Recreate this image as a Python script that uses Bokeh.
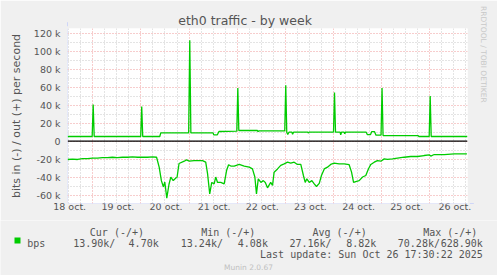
from bokeh.plotting import figure
from bokeh.layouts import column
from bokeh.models import (FixedTicker, Span, Arrow, NormalHead, Range1d,
                          ColumnDataSource, Title)
from bokeh.core.properties import value
from bokeh.embed import file_html
from bokeh.resources import INLINE

# ---------------- data ----------------
title_text = "eth0 traffic - by week"
y_label = "bits in (-) / out (+) per second"
day_labels = ["18 oct.", "19 oct.", "20 oct.", "21 oct.", "22 oct.",
              "23 oct.", "24 oct.", "25 oct.", "26 oct."]
y_tick_values = [-60000, -40000, -20000, 0, 20000, 40000, 60000, 80000, 100000, 120000]
y_tick_labels = ["-60 k", "-40 k", "-20 k", "0", "20 k", "40 k", "60 k", "80 k", "100 k", "120 k"]

# hours since 18 oct 00:00
hours_out = [11.4, 23.7, 24.2, 24.7, 47.9, 48.4, 48.9, 57.4, 57.9, 71.8, 72.35, 72.9,
             84.0, 84.3, 86.1, 86.9, 95.8, 96.3, 96.8, 106.0, 106.4, 106.9,
             119.7, 120.2, 120.7, 121.2, 121.8, 123.3, 123.6, 124.1, 131.2, 131.4, 131.8,
             144.0, 144.5, 145.0, 147.3, 147.6, 148.0, 149.3, 149.6, 150.0,
             160.3, 160.9, 162.4, 163.1, 164.4, 165.2, 167.7, 168.2, 168.7,
             186.2, 186.5, 191.7, 192.2, 192.7, 210.8]
bps_out = [5000, 5000, 40500, 5000, 5000, 38300, 5000, 5000, 9000, 9000, 112000, 9000,
           9100, 6900, 6900, 10600, 10900, 59000, 11700, 11700, 10500, 11300,
           11300, 62000, 9800, 7200, 9800, 9800, 7500, 9800, 9800, 9000, 9800,
           9800, 54000, 9800, 9800, 7000, 9800, 9800, 8000, 9800,
           9800, 7000, 7000, 10500, 10500, 6500, 6500, 59000, 6100,
           6100, 5000, 5000, 50000, 5000, 5000]

hours_in = [11.4, 13.9, 16.4, 18.9, 21.4, 23.9, 26.3, 28.8, 31.3, 33.8, 36.3, 38.8,
            41.3, 43.8, 46.3, 48.8, 51.3, 53.8, 55.8,
            57.1, 58.2, 59.2, 59.9, 60.9, 62.0, 62.9, 64.1, 65.4, 66.0, 67.0,
            69.6, 70.7, 72.1, 74.5, 78.7, 80.3, 81.2, 82.3, 83.3, 84.5, 85.3, 86.2,
            87.8, 89.5, 90.7, 91.7, 92.8, 94.5, 97.0, 99.5, 102.0, 103.6, 104.8,
            105.6, 106.5, 107.8, 109.0, 110.0, 111.1, 112.7, 113.6, 114.4, 116.1,
            117.7, 119.4, 121.1, 122.7, 124.4, 126.0, 127.7, 129.0, 129.9, 130.7,
            131.9, 133.2, 134.4, 135.5, 136.9, 138.0, 139.4, 141.0, 142.6, 144.3,
            146.8, 149.3, 151.8, 153.0, 154.0, 155.1, 156.8, 158.5, 160.1, 161.4,
            162.6, 164.3, 165.9, 167.6, 169.3, 170.9, 173.4, 175.9, 179.2, 182.5,
            185.9, 189.2, 191.7, 192.5, 194.2, 199.2, 204.2, 210.5]
bps_in = [20500, 20000, 20500, 19500, 19500, 19000, 19000, 18500, 18500, 18000, 18500, 18000,
          18000, 17500, 18000, 18000, 18000, 17500, 18000,
          29000, 44000, 51000, 45500, 63500, 48000, 40000, 44000, 41000, 40500, 25000,
          22400, 21000, 22400, 21700, 21700, 23500, 36000, 58700, 46000, 47600, 40000, 46000,
          46000, 47600, 32800, 26300, 27800, 27800, 26000, 27800, 29000, 31000, 40000,
          58700, 42000, 46000, 44000, 46000, 52000, 46000, 49400, 34600, 31000,
          27000, 25300, 23500, 24600, 23500, 26000, 26000, 38300, 46000, 42000,
          46000, 44000, 47600, 50500, 47000, 38300, 31000, 29000, 26000, 24600,
          25300, 25300, 26300, 34600, 46000, 45000, 44000, 40000, 38300, 31000,
          26000, 23500, 21700, 22400, 19800, 20500, 19800, 19000, 18000, 17200,
          17200, 16100, 15400, 16700, 15000, 15000, 14300, 14300]

legend_name = "bps"
legend_headers = ["Cur (-/+)", "Min (-/+)", "Avg (-/+)", "Max (-/+)"]
legend_in_vals = ["13.90k/", "13.24k/", "27.16k/", "70.28k/"]
legend_out_vals = ["4.70k", "4.08k", "8.82k", "628.90k"]
last_update = "Last update: Sun Oct 26 17:30:22 2025"
footer = "Munin 2.0.67"
side_text = "RRDTOOL / TOBI OETIKER"

# ---------------- styling ----------------
GREEN = "#00CC00"
FONT_C = "#555555"
AXIS_C = "#CFD6F8"
BACK = "#F0F0F0"
W = 497
MAIN_H = 220
LEG_H = 55
FL, FT, FR, FB = 67, 28, 467, 203   # frame edges (canvas px)

p = figure(width=W, height=MAIN_H, output_backend="svg", toolbar_location=None,
           title=title_text, x_range=Range1d(11.4, 210.8), y_range=Range1d(-69400, 125000),
           min_border_left=FL, min_border_right=W - FR, min_border_top=FT,
           min_border_bottom=MAIN_H - FB)
p.frame_align = False
p.background_fill_color = "#FFFFFF"
p.border_fill_color = BACK
p.outline_line_color = None

p.title.align = "left"
p.title.offset = 177.7 - FL
p.title.standoff = 1
p.title.text_font = "DejaVu Sans"
p.title.text_font_size = "12.5px"
p.title.text_font_style = "normal"
p.title.text_color = FONT_C

side = Title(text=side_text, align="left", offset=-22.5, standoff=19,
             vertical_align="top",
             text_font="DejaVu Sans", text_font_size="7.5px",
             text_font_style="normal", text_color="#C8C8C8")
p.add_layout(side, "right")

# axes
label_pos = [12.5 + 24 * i for i in range(len(day_labels))]
p.xaxis.ticker = FixedTicker(ticks=label_pos)
p.xaxis.major_label_overrides = {t: s for t, s in zip(label_pos, day_labels)}
p.yaxis.ticker = FixedTicker(ticks=y_tick_values)
p.yaxis.major_label_overrides = {v: s for v, s in zip(y_tick_values, y_tick_labels)}
for ax in (p.xaxis[0], p.yaxis[0]):
    ax.axis_line_color = None
    ax.major_tick_line_color = None
    ax.minor_tick_line_color = None
    ax.major_tick_out = 0
    ax.major_tick_in = 0
    ax.major_label_text_font = "DejaVu Sans"
    ax.major_label_text_font_size = "9.5px"
    ax.major_label_text_color = FONT_C
p.xaxis.major_label_standoff = -3
p.yaxis.major_label_standoff = 7
p.yaxis.axis_label = y_label
p.yaxis.axis_label_text_font = "DejaVu Sans"
p.yaxis.axis_label_text_font_size = "11px"
p.yaxis.axis_label_text_font_style = "normal"
p.yaxis.axis_label_text_color = FONT_C
p.yaxis.axis_label_standoff = 8

# grids
midnights = [24 * i for i in range(1, 9)]
six_hours = [6 * i for i in range(1, 36) if i % 4 != 0]
p.xgrid.ticker = FixedTicker(ticks=midnights, minor_ticks=six_hours)
p.ygrid.ticker = FixedTicker(ticks=y_tick_values,
                             minor_ticks=[v + 10000 for v in y_tick_values])
for g in (p.xgrid[0], p.ygrid[0]):
    g.grid_line_color = "#EE9A9A"
    g.grid_line_dash = "1 2"
    g.grid_line_width = 1
    g.minor_grid_line_color = "#C8C8C8"
    g.minor_grid_line_dash = "1 2"
    g.minor_grid_line_width = 1

# data
src_out = ColumnDataSource(dict(t=hours_out, v=bps_out))
src_in = ColumnDataSource(dict(t=hours_in, v=[-b for b in bps_in]))
p.line("t", "v", source=src_out, line_color=GREEN, line_width=1.3)
p.line("t", "v", source=src_in, line_color=GREEN, line_width=1.3)
p.add_layout(Span(location=0, dimension="width", line_color="#000000", line_width=1.2))

# axis arrows (screen units are relative to the frame's bottom-left)
p.add_layout(Arrow(x_start=0, y_start=0, x_end=0, y_end=FB - 21.7,
                   start_units="screen", end_units="screen",
                   line_color=AXIS_C, line_width=1,
                   end=NormalHead(size=4, fill_color=AXIS_C, line_color=AXIS_C)))
p.add_layout(Arrow(x_start=0, y_start=0, x_end=473.3 - FL, y_end=0,
                   start_units="screen", end_units="screen",
                   line_color=AXIS_C, line_width=1,
                   end=NormalHead(size=4, fill_color=AXIS_C, line_color=AXIS_C)))

# ---------------- legend strip ----------------
leg = figure(width=W, height=LEG_H, output_backend="svg", toolbar_location=None,
             x_range=Range1d(0, W), y_range=Range1d(LEG_H, 0),
             x_axis_type=None, y_axis_type=None, min_border=0)
leg.frame_align = False
leg.background_fill_color = BACK
leg.border_fill_color = BACK
leg.outline_line_color = None
leg.grid.visible = False

Y0 = MAIN_H
mono = dict(text_font=value("DejaVu Sans Mono"), text_font_size="10px",
            text_color=FONT_C, text_baseline="alphabetic")
leg.text(x=[89.3, 200.7, 312.0, 422.7], y=[231.5 - Y0] * 4, text=legend_headers,
         text_align="left", **mono)
leg.quad(left=[14], right=[20], top=[237 - Y0], bottom=[243 - Y0],
         fill_color=GREEN, line_color=None)
leg.text(x=[26.7], y=[242.7 - Y0], text=[legend_name], text_align="left", **mono)
leg.text(x=[72.7, 180.3, 289.0, 397.3], y=[242.7 - Y0] * 4, text=legend_in_vals,
         text_align="left", **mono)
leg.text(x=[158.2, 267.4, 375.8, 482.3], y=[242.7 - Y0] * 4, text=legend_out_vals,
         text_align="right", **mono)
leg.text(x=[482.3], y=[254.3 - Y0], text=[last_update], text_align="right", **mono)
leg.text(x=[248], y=[267 - Y0], text=[footer], text_align="center",
         text_baseline="alphabetic", text_font=value("DejaVu Sans"),
         text_font_size="7.5px", text_color="#C0C0C0")

layout = column(p, leg, spacing=0)
open("out.html", "w").write(file_html(layout, INLINE))
